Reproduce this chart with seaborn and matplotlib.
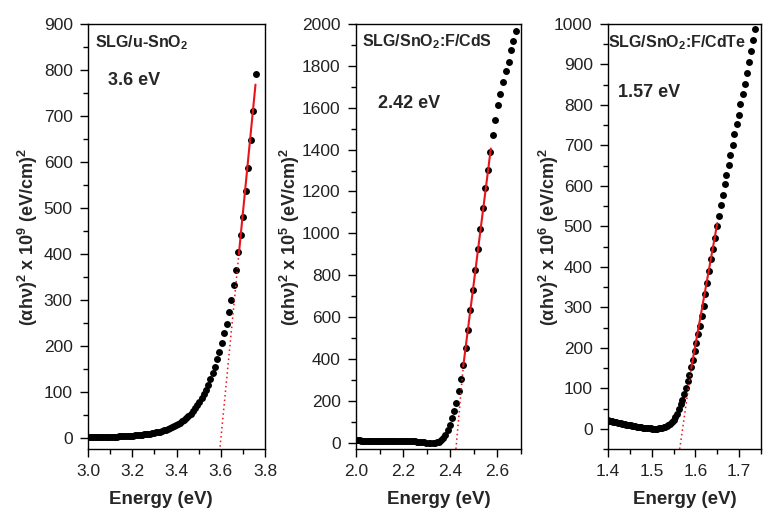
import matplotlib
matplotlib.use("Agg")
import matplotlib.pyplot as plt
import seaborn as sns
import pandas as pd
from matplotlib.ticker import MultipleLocator

# ---------------- data: panel 1 (SLG/u-SnO2) ----------------
e_sno2 = [3.002, 3.010, 3.017, 3.024, 3.032, 3.039, 3.047, 3.054, 3.062, 3.069,
          3.077, 3.085, 3.092, 3.100, 3.108, 3.116, 3.123, 3.131, 3.139, 3.147,
          3.155, 3.163, 3.171, 3.179, 3.188, 3.196, 3.204, 3.212, 3.221, 3.229,
          3.238, 3.246, 3.255, 3.263, 3.272, 3.280, 3.289, 3.298, 3.307, 3.316,
          3.324, 3.333, 3.342, 3.351, 3.360, 3.370, 3.379, 3.388, 3.397, 3.407,
          3.416, 3.425, 3.435, 3.444, 3.454, 3.464, 3.473, 3.483, 3.493, 3.503,
          3.513, 3.523, 3.533, 3.543, 3.553, 3.563, 3.573, 3.584, 3.594, 3.605,
          3.615, 3.626, 3.636, 3.647, 3.658, 3.669, 3.680, 3.690, 3.701, 3.713,
          3.724, 3.735, 3.746, 3.758]
a_sno2 = [0.6, 0.6, 0.7, 0.7, 0.8, 0.8, 0.9, 1.0, 1.1, 1.2,
          1.3, 1.4, 1.5, 1.6, 1.7, 1.8, 2.0, 2.1, 2.3, 2.5,
          2.7, 2.9, 3.1, 3.3, 3.6, 3.9, 4.2, 4.5, 4.9, 5.3,
          5.7, 6.2, 6.7, 7.3, 7.9, 8.6, 9.3, 10.1, 11.0, 12.0,
          13.0, 14.1, 15.4, 16.8, 18.3, 20.0, 22.0, 24.0, 26.5, 29.0,
          32.0, 35.0, 38.5, 42.5, 47.0, 52.0, 57.5, 63.5, 70.0, 77.0,
          85.0, 94.0, 104.0, 115.0, 128.0, 140.0, 154.0, 171.0, 187.0, 205.0,
          227.0, 248.0, 274.0, 299.0, 332.0, 364.0, 404.0, 441.0, 481.0, 536.0,
          586.0, 647.0, 710.0, 791.0]

# ---------------- data: panel 2 (SLG/SnO2:F/CdS) ----------------
e_cds = [2.677, 2.667, 2.658, 2.647, 2.635, 2.624, 2.613, 2.601, 2.590, 2.580,
         2.570, 2.560, 2.549, 2.537, 2.526, 2.516, 2.506, 2.495, 2.485, 2.475,
         2.465, 2.455, 2.445, 2.435, 2.426, 2.416, 2.407, 2.399, 2.389, 2.379,
         2.370, 2.361, 2.352, 2.343, 2.334, 2.325, 2.316, 2.308, 2.299, 2.290,
         2.282, 2.273, 2.265, 2.257, 2.249, 2.241, 2.233, 2.225, 2.217, 2.209,
         2.202, 2.194, 2.186, 2.178, 2.171, 2.163, 2.156, 2.148, 2.141, 2.134,
         2.126, 2.119, 2.112, 2.105, 2.098, 2.091, 2.084, 2.077, 2.070, 2.063,
         2.056, 2.049, 2.042, 2.036, 2.029, 2.022, 2.016, 2.009, 2.003]
a_cds = [1968, 1920, 1876, 1820, 1774, 1722, 1666, 1613, 1542, 1472,
         1388, 1303, 1216, 1119, 1023, 926, 826, 728, 632, 539,
         451, 372, 305, 245, 192, 153, 118, 86, 59, 38,
         22, 12, 5, 1.5, 0, -0.5, -0.5, 0, 0.5, 1.5,
         2.5, 3.5, 4.5, 5.5, 6.3, 7.0, 7.5, 8.0, 8.3, 8.5,
         8.7, 8.8, 8.8, 8.8, 8.7, 8.6, 8.5, 8.4, 8.3, 8.2,
         8.1, 8.0, 8.0, 8.0, 8.0, 8.0, 8.1, 8.2, 8.3, 8.5,
         8.7, 9.0, 9.3, 9.6, 10.0, 10.4, 10.8, 11.2, 11.5]

# ---------------- data: panel 3 (SLG/SnO2:F/CdTe) ----------------
e_cdte = [1.737, 1.732, 1.727, 1.722, 1.717, 1.713, 1.708, 1.703, 1.699, 1.694,
          1.689, 1.685, 1.680, 1.676, 1.671, 1.667, 1.662, 1.658, 1.653, 1.649,
          1.645, 1.640, 1.636, 1.632, 1.627, 1.623, 1.619, 1.615, 1.610, 1.606,
          1.602, 1.598, 1.594, 1.590, 1.586, 1.582, 1.578, 1.574, 1.570, 1.566,
          1.562, 1.558, 1.554, 1.550, 1.546, 1.542, 1.538, 1.535, 1.531, 1.527,
          1.523, 1.520, 1.516, 1.512, 1.509, 1.505, 1.501, 1.498, 1.494, 1.490,
          1.487, 1.483, 1.480, 1.476, 1.473, 1.469, 1.466, 1.462, 1.459, 1.455,
          1.452, 1.449, 1.445, 1.442, 1.439, 1.435, 1.432, 1.429, 1.425, 1.422,
          1.419, 1.416, 1.412, 1.409, 1.406, 1.403, 1.400]
a_cdte = [988, 960, 933, 906, 880, 853, 827, 802, 776, 752,
          728, 702, 677, 652, 628, 604, 577, 553, 525, 502,
          472, 445, 420, 390, 360, 333, 304, 279, 255, 233,
          211, 191, 170, 152, 134, 117, 101, 86, 72, 60,
          48, 37, 29, 22, 17, 13, 9.5, 7.0, 5.0, 3.5,
          2.3, 1.5, 1.0, 0.6, 0.4, 0.4, 0.5, 0.8, 1.1, 1.5,
          2.0, 2.5, 3.0, 3.6, 4.2, 4.8, 5.4, 6.0, 6.7, 7.4,
          8.1, 8.8, 9.5, 10.2, 11.0, 11.8, 12.6, 13.4, 14.2, 15.0,
          15.8, 16.6, 17.4, 18.2, 19.0, 19.8, 20.5]

# ---------------- linear (Tauc) fits ----------------
fit_solid_x = [[3.682, 3.757], [2.455, 2.572], [1.5905, 1.650]]
fit_solid_y = [[400, 768], [365, 1405], [150, 508]]
fit_dot_x = [[3.597, 3.682], [2.424, 2.455], [1.564, 1.5905]]
fit_dot_y = [[-20, 400], [-30, 365], [-50, 150]]

samples = ["SLG/u-SnO$_2$", "SLG/SnO$_2$:F/CdS", "SLG/SnO$_2$:F/CdTe"]
gap_labels = ["3.6 eV", "2.42 eV", "1.57 eV"]
exponents = ["9", "5", "6"]

energies = [e_sno2, e_cds, e_cdte]
values = [a_sno2, a_cds, a_cdte]

# ---------------- style ----------------
sns.set_theme(style="ticks")
plt.rcParams["font.family"] = ["Liberation Sans", "DejaVu Sans"]
plt.rcParams["mathtext.fontset"] = "custom"
plt.rcParams["mathtext.rm"] = "Liberation Sans:bold"
plt.rcParams["mathtext.it"] = "Liberation Sans:bold"
plt.rcParams["mathtext.bf"] = "Liberation Sans:bold"

fig = plt.figure(figsize=(7.77, 5.2), dpi=100)
fig.patch.set_facecolor("white")

W, H = 777.0, 520.0
boxes = [(88, 265), (356, 521), (608, 761)]
top_px, bot_px = 24, 449
xlims = [(3.0, 3.8), (2.0, 2.7), (1.4, 1.75)]
ylims = [(-25, 900), (-30, 2000), (-50, 1000)]
xmaj = [0.2, 0.2, 0.1]
xmin_ = [0.1, 0.1, 0.05]
ymaj = [100, 200, 100]
ymin_ = [50, 100, 50]
ylab_x_px = [40, 302, 561]
xlab_x = [0.41, 0.5, 0.5]
sample_pos = [(0.04, 0.955), (0.035, 0.958), (0.0, 0.955)]
gap_pos = [(0.113, 0.866), (0.133, 0.812), (0.065, 0.84)]

red = "#e8141b"

for i in range(3):
    l, r = boxes[i]
    ax = fig.add_axes([l / W, (H - bot_px) / H, (r - l) / W, (bot_px - top_px) / H])
    df = pd.DataFrame({"E": energies[i], "A": values[i]})
    sns.scatterplot(data=df, x="E", y="A", ax=ax, color="black", s=25,
                    linewidth=0, legend=False, zorder=2)
    dfs = pd.DataFrame({"E": fit_solid_x[i], "A": fit_solid_y[i]})
    sns.lineplot(data=dfs, x="E", y="A", ax=ax, color=red, lw=1.5,
                 estimator=None, zorder=3)
    dfd = pd.DataFrame({"E": fit_dot_x[i], "A": fit_dot_y[i]})
    sns.lineplot(data=dfd, x="E", y="A", ax=ax, color=red, lw=1.1,
                 linestyle=(0, (1, 2)), estimator=None, zorder=3)

    ax.set_xlim(*xlims[i])
    ax.set_ylim(*ylims[i])
    ax.xaxis.set_major_locator(MultipleLocator(xmaj[i]))
    ax.xaxis.set_minor_locator(MultipleLocator(xmin_[i]))
    ax.yaxis.set_major_locator(MultipleLocator(ymaj[i]))
    ax.yaxis.set_minor_locator(MultipleLocator(ymin_[i]))
    ax.tick_params(which="both", direction="out", color="black", width=1.0,
                   labelsize=12.5, labelcolor="#222222", top=False, right=False)
    ax.tick_params(which="major", length=6, pad=5)
    ax.tick_params(which="minor", length=3.5)
    for sp in ax.spines.values():
        sp.set_visible(True)
        sp.set_color("black")
        sp.set_linewidth(1.0)

    ax.set_xlabel("Energy (eV)", fontsize=13.5, fontweight="bold")
    ax.xaxis.set_label_coords(xlab_x[i], (bot_px - 491) / (bot_px - top_px))
    ax.set_ylabel("(αhν)$^{2}$ x 10$^{%s}$ (eV/cm)$^{2}$" % exponents[i],
                  fontsize=13, fontweight="bold")
    ax.yaxis.set_label_coords((ylab_x_px[i] - l) / (r - l), 0.5)

    ax.text(sample_pos[i][0], sample_pos[i][1], samples[i], transform=ax.transAxes,
            fontsize=11.5, fontweight="bold", ha="left", va="center", zorder=4)
    ax.text(gap_pos[i][0], gap_pos[i][1], gap_labels[i], transform=ax.transAxes,
            fontsize=13, fontweight="bold", ha="left", va="center", zorder=4)

fig.savefig("out.png", dpi=100, facecolor="white")
